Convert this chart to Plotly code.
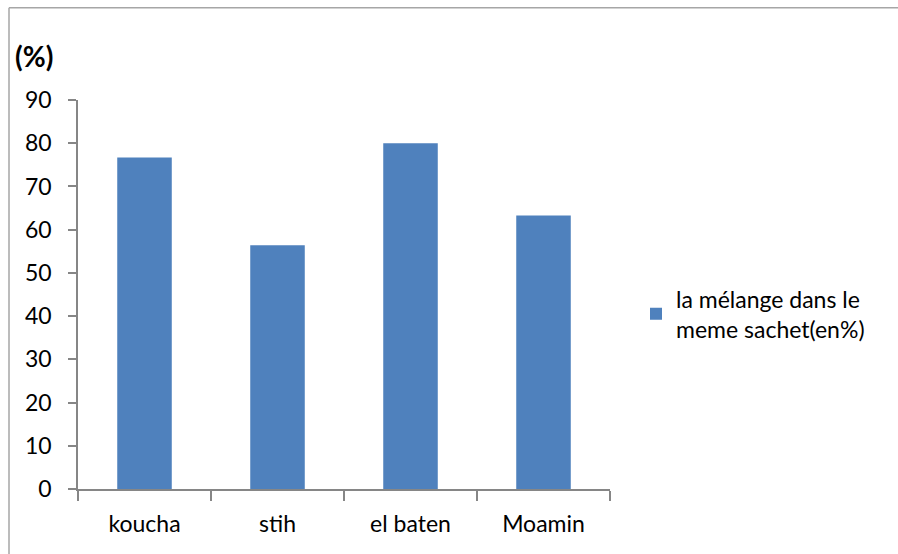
import plotly.graph_objects as go

categories = ["koucha", "stih", "el baten", "Moamin"]
values = [76.7, 56.4, 80.0, 63.3]
series_name = "la mélange dans le<br>meme sachet(en%)"
y_ticks = [0, 10, 20, 30, 40, 50, 60, 70, 80, 90]

W, H = 898, 554
L, R, T, B = 78, 288, 99.5, 64.5
pw, ph = W - L - R, H - T - B

def px(x):
    return (x - L) / pw

def py(y):
    return (H - B - y) / ph

FONT = "Lato, Carlito, Calibri, sans-serif"
FS = 23

fig = go.Figure()
fig.add_trace(go.Bar(x=categories, y=values, name=series_name,
                     marker=dict(color="#4F81BD", line=dict(width=0)),
                     showlegend=True))

fig.update_layout(
    width=W, height=H,
    margin=dict(l=L, r=R, t=T, b=B, autoexpand=False),
    paper_bgcolor="white", plot_bgcolor="white",
    font=dict(family=FONT, size=FS, color="#000000"),
    bargap=0.59,
    showlegend=True,
    legend=dict(x=px(636), y=py(314), xanchor="left", yanchor="middle",
                font=dict(family=FONT, size=FS, color="#000000"),
                bgcolor="rgba(0,0,0,0)", itemwidth=30, tracegroupgap=0),
    xaxis=dict(showline=True, linecolor="#868686", linewidth=1.5,
               ticks="outside", tickson="boundaries", ticklen=10,
               tickcolor="#868686", tickwidth=1.5,
               showgrid=False, zeroline=False,
               tickfont=dict(family=FONT, size=FS),
               ticklabelstandoff=14),
    yaxis=dict(range=[0, 90], tickvals=y_ticks, showline=True,
               linecolor="#868686", linewidth=1.5,
               ticks="outside", ticklen=8, tickcolor="#868686", tickwidth=1.5,
               showgrid=False, zeroline=False,
               tickfont=dict(family=FONT, size=FS),
               ticklabelstandoff=12),
    annotations=[dict(text="<b>(%)</b>", x=px(13), y=py(55), xref="paper", yref="paper",
                      xanchor="left", yanchor="middle", showarrow=False,
                      font=dict(family=FONT, size=28, color="#000000"))],
    shapes=[
        dict(type="line", xref="paper", yref="paper", x0=px(9), x1=px(9),
             y0=py(560), y1=py(7), line=dict(color="#A6A6A6", width=1.5)),
        dict(type="line", xref="paper", yref="paper", x0=px(9), x1=px(905),
             y0=py(7), y1=py(7), line=dict(color="#A6A6A6", width=1.5)),
    ],
)

fig.write_html("out.html")
